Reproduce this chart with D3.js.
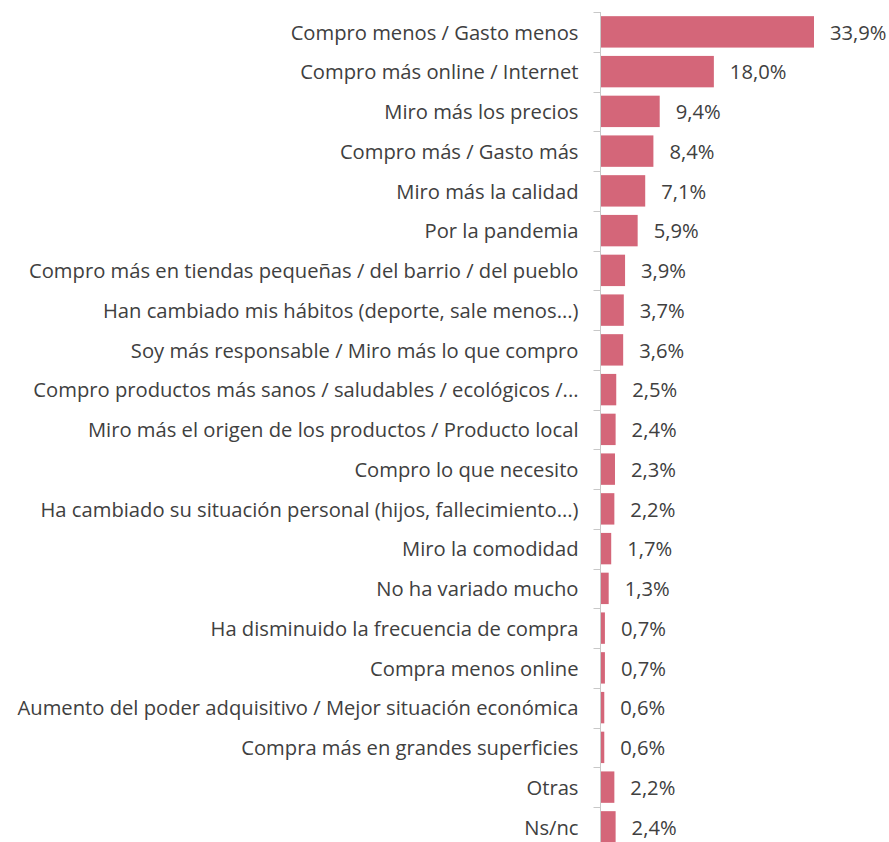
<!DOCTYPE html>
<html>
<head>
<meta charset="utf-8">
<script src="https://cdn.jsdelivr.net/npm/d3@7"></script>
<style>
  html, body { margin: 0; padding: 0; background: #fff; }
  svg { display: block; }
</style>
</head>
<body>
<svg id="chart" width="889" height="842"></svg>
<script>
const categories = [
  "Compro menos / Gasto menos",
  "Compro más online / Internet",
  "Miro más los precios",
  "Compro más / Gasto más",
  "Miro más la calidad",
  "Por la pandemia",
  "Compro más en tiendas pequeñas / del barrio / del pueblo",
  "Han cambiado mis hábitos (deporte, sale menos...)",
  "Soy más responsable / Miro más lo que compro",
  "Compro productos más sanos / saludables / ecológicos /...",
  "Miro más el origen de los productos / Producto local",
  "Compro lo que necesito",
  "Ha cambiado su situación personal (hijos, fallecimiento...)",
  "Miro la comodidad",
  "No ha variado mucho",
  "Ha disminuido la frecuencia de compra",
  "Compra menos online",
  "Aumento del poder adquisitivo / Mejor situación económica",
  "Compra más en grandes superficies",
  "Otras",
  "Ns/nc"
];
const values = [33.9, 18.0, 9.4, 8.4, 7.1, 5.9, 3.9, 3.7, 3.6, 2.5, 2.4, 2.3, 2.2, 1.7, 1.3, 0.7, 0.7, 0.6, 0.6, 2.2, 2.4];

const data = categories.map((c, i) => ({ cat: c, val: values[i] }));

const svg = d3.select("#chart");
const axisX = 600.5;
const plotTop = 12;
const step = 39.75;
const fontFamily = "'Open Sans', 'Noto Sans', sans-serif";
const fontSize = "20.2px";

const x = d3.scaleLinear().domain([0, 33.9]).range([axisX, 814]);
const y = d3.scaleBand()
  .domain(categories)
  .range([plotTop, plotTop + step * categories.length])
  .paddingInner(0.21)
  .paddingOuter(0.105);

const fmt = v => d3.format(".1f")(v).replace(".", ",") + "%";

// bars
svg.append("g").selectAll("rect")
  .data(data)
  .join("rect")
  .attr("x", x(0) + 0.5)
  .attr("y", d => y(d.cat))
  .attr("width", d => x(d.val) - x(0) - 0.5)
  .attr("height", y.bandwidth())
  .attr("fill", "#d46679");

// category axis
const axis = d3.axisLeft(y).tickSize(0).tickPadding(22);
const gAxis = svg.append("g")
  .attr("transform", `translate(${axisX},0)`)
  .call(axis);
gAxis.select(".domain").attr("stroke", "#c8c8c8").attr("d", `M0,${plotTop}V842`);
gAxis.selectAll(".tick text")
  .attr("fill", "#404040")
  .attr("dy", "0.38em")
  .style("font-family", fontFamily)
  .style("font-size", fontSize);

// boundary ticks between categories
svg.append("g").selectAll("line")
  .data(d3.range(categories.length + 1))
  .join("line")
  .attr("x1", axisX - 7)
  .attr("x2", axisX)
  .attr("y1", i => Math.round(plotTop + i * step) + 0.5)
  .attr("y2", i => Math.round(plotTop + i * step) + 0.5)
  .attr("stroke", "#c8c8c8");

// value labels
svg.append("g").selectAll("text")
  .data(data)
  .join("text")
  .attr("x", d => x(d.val) + 16)
  .attr("y", d => y(d.cat) + y.bandwidth() / 2)
  .attr("dy", "0.38em")
  .attr("fill", "#404040")
  .style("font-family", fontFamily)
  .style("font-size", fontSize)
  .text(d => fmt(d.val));
</script>
</body>
</html>
